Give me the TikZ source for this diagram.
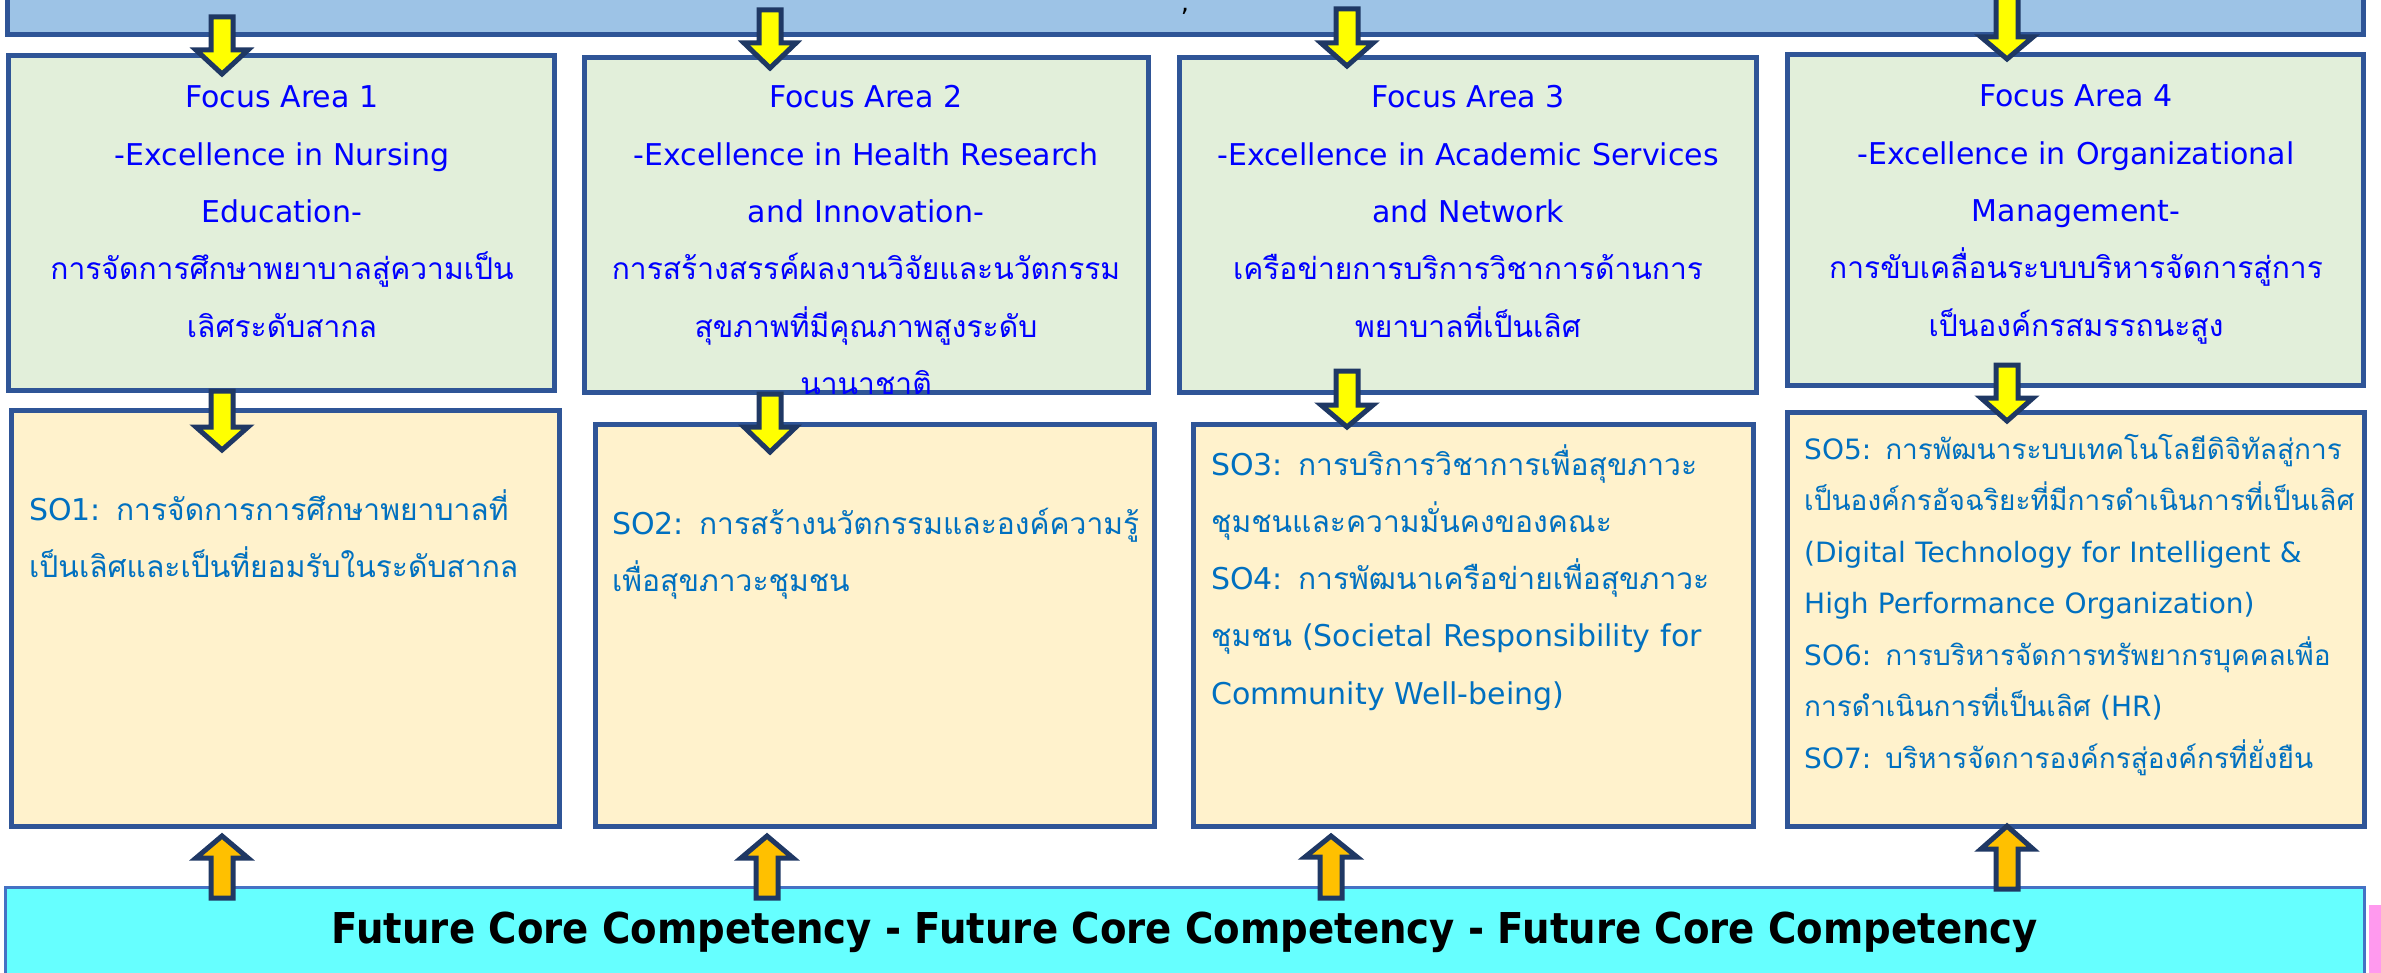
\documentclass[tikz,border=0pt]{standalone}
\usepackage{fontspec}
\setmainfont{DejaVu Sans}
\newfontfamily\thai[Script=Thai]{Loma}
\newfontfamily\botfont[FakeStretch=0.91]{DejaVu Sans}
\usetikzlibrary{fit}
\definecolor{topfill}{HTML}{9DC3E6}
\definecolor{bord}{HTML}{2F5597}
\definecolor{fafill}{HTML}{E2EFDA}
\definecolor{sofill}{HTML}{FFF2CC}
\definecolor{cyanfill}{HTML}{66FFFF}
\definecolor{cyanbord}{HTML}{4472C4}
\definecolor{navy}{HTML}{1F3864}
\definecolor{yel}{HTML}{FFFF00}
\definecolor{orng}{HTML}{FFC000}
\definecolor{fatext}{HTML}{0000FF}
\definecolor{sotext}{HTML}{0070C0}
\definecolor{pinkc}{HTML}{FF99EE}
\tikzset{
  panel/.style={rectangle, draw=bord, line width=5, inner sep=0, outer sep=0},
  topbar/.style={panel, fill=topfill},
  fabox/.style={panel, fill=fafill},
  sobox/.style={panel, fill=sofill},
  cyanbar/.style={rectangle, draw=cyanbord, line width=3, fill=cyanfill, inner sep=0, outer sep=0},
  blkarrow/.style={draw=navy, line width=5, line join=miter},
  fatxt/.style={text=fatext, font=\fontsize{30}{57.3}\selectfont, align=center, text width=700, inner sep=0, anchor=base},
  sotxt/.style={text=sotext, font=\fontsize{30}{57.3}\selectfont, align=left, text width=700, inner sep=0, anchor=base west},
  sotxtsmall/.style={sotxt, font=\fontsize{28}{51.5}\selectfont},
  bottxt/.style={text=black, font=\botfont\bfseries\fontsize{42.5}{50}\selectfont, inner sep=0, anchor=base},
}
\newcommand{\mkbox}[6]{%
  \path (#3,#4) coordinate (#1-a) (#5,#6) coordinate (#1-b);
  \node[#2, fit=(#1-a)(#1-b)] (#1) {};}
\newcommand{\blkdown}[5]{%
  \draw[blkarrow, fill=#5] (#1-11,#2) -- (#1+11,#2) -- (#1+11,#3) -- (#1+26,#3)
    -- (#1,#4) -- (#1-26,#3) -- (#1-11,#3) -- cycle;}
\begin{document}
\begin{tikzpicture}[x=1pt,y=-1pt]
\path[use as bounding box, clip] (0,0) rectangle (2381,973);
% bars and boxes
\mkbox{top}{topbar}{7.5}{-20}{2363.5}{34.5}
\mkbox{fa1}{fabox}{8.5}{55.5}{554.5}{390.5}
\mkbox{fa2}{fabox}{584.5}{57.5}{1148.5}{392.5}
\mkbox{fa3}{fabox}{1179.5}{57.5}{1756.5}{392.5}
\mkbox{fa4}{fabox}{1787.5}{54.5}{2363.5}{385.5}
\mkbox{so1}{sobox}{11.5}{410.5}{559.5}{826.5}
\mkbox{so2}{sobox}{595.5}{424.5}{1154.5}{826.5}
\mkbox{so3}{sobox}{1193.5}{424.5}{1753.5}{826.5}
\mkbox{so4}{sobox}{1787.5}{412.5}{2364.5}{826.5}
\mkbox{core}{cyanbar}{5.5}{887.5}{2364.5}{1000}
\fill[pinkc] (2369,905) rectangle (2381,973);
% comma in the top bar
\node[text=black, font=\fontsize{26}{30}\selectfont, inner sep=0, anchor=base] (comma) at (1185,12) {,};
% arrows top -> focus areas
\blkdown{222}{17}{50}{74}{yel}
\blkdown{770}{10}{43}{68}{yel}
\blkdown{1347}{9}{43}{66}{yel}
\blkdown{2007}{-10}{37}{59}{yel}
% arrows focus areas -> SO boxes
\blkdown{222}{391}{427}{450}{yel}
\blkdown{770}{394}{427}{452}{yel}
\blkdown{1347}{371}{405}{427}{yel}
\blkdown{2007}{365}{398}{421}{yel}
% arrows core -> SO boxes (upward)
\blkdown{222}{898}{858}{836}{orng}
\blkdown{767}{898}{858}{836}{orng}
\blkdown{1331}{898}{857}{836}{orng}
\blkdown{2007}{889}{849}{826}{orng}
% focus area texts
\node[fatxt] (fa1t) at (282,108) {Focus Area 1\\-Excellence in Nursing\\Education-\\{\thai การจัดการศึกษาพยาบาลสู่ความเป็น}\\{\thai เลิศระดับสากล}};
\node[fatxt] (fa2t) at (866,108) {Focus Area 2\\-Excellence in Health Research\\and Innovation-\\{\thai การสร้างสรรค์ผลงานวิจัยและนวัตกรรม}\\{\thai สุขภาพที่มีคุณภาพสูงระดับ}\\{\thai นานาชาติ}};
\node[fatxt] (fa3t) at (1468,108) {Focus Area 3\\-Excellence in Academic Services\\and Network\\{\thai เครือข่ายการบริการวิชาการด้านการ}\\{\thai พยาบาลที่เป็นเลิศ}};
\node[fatxt] (fa4t) at (2076,107) {Focus Area 4\\-Excellence in Organizational\\Management-\\{\thai การขับเคลื่อนระบบบริหารจัดการสู่การ}\\{\thai เป็นองค์กรสมรรถนะสูง}};
% SO texts
\node[sotxt] (so1t) at (29,520) {SO1: {\thai การจัดการการศึกษาพยาบาลที่}\\{\thai เป็นเลิศและเป็นที่ยอมรับในระดับสากล}};
\node[sotxt] (so2t) at (612,534) {SO2: {\thai การสร้างนวัตกรรมและองค์ความรู้}\\{\thai เพื่อสุขภาวะชุมชน}};
\node[sotxt] (so3t) at (1211,475) {SO3: {\thai การบริการวิชาการเพื่อสุขภาวะ}\\{\thai ชุมชนและความมั่นคงของคณะ}\\SO4: {\thai การพัฒนาเครือข่ายเพื่อสุขภาวะ}\\{\thai ชุมชน} (Societal Responsibility for\\Community Well-being)};
\node[sotxtsmall] (so4t) at (1804,459) {SO5: {\thai การพัฒนาระบบเทคโนโลยีดิจิทัลสู่การ}\\{\thai เป็นองค์กรอัจฉริยะที่มีการดำเนินการที่เป็นเลิศ}\\(Digital Technology for Intelligent \&\\High Performance Organization)\\SO6: {\thai การบริหารจัดการทรัพยากรบุคคลเพื่อ}\\{\thai การดำเนินการที่เป็นเลิศ} (HR)\\SO7: {\thai บริหารจัดการองค์กรสู่องค์กรที่ยั่งยืน}};
% bottom text
\node[bottxt] (coret) at (1185,943) {Future Core Competency - Future Core Competency - Future Core Competency};
\end{tikzpicture}
\end{document}
